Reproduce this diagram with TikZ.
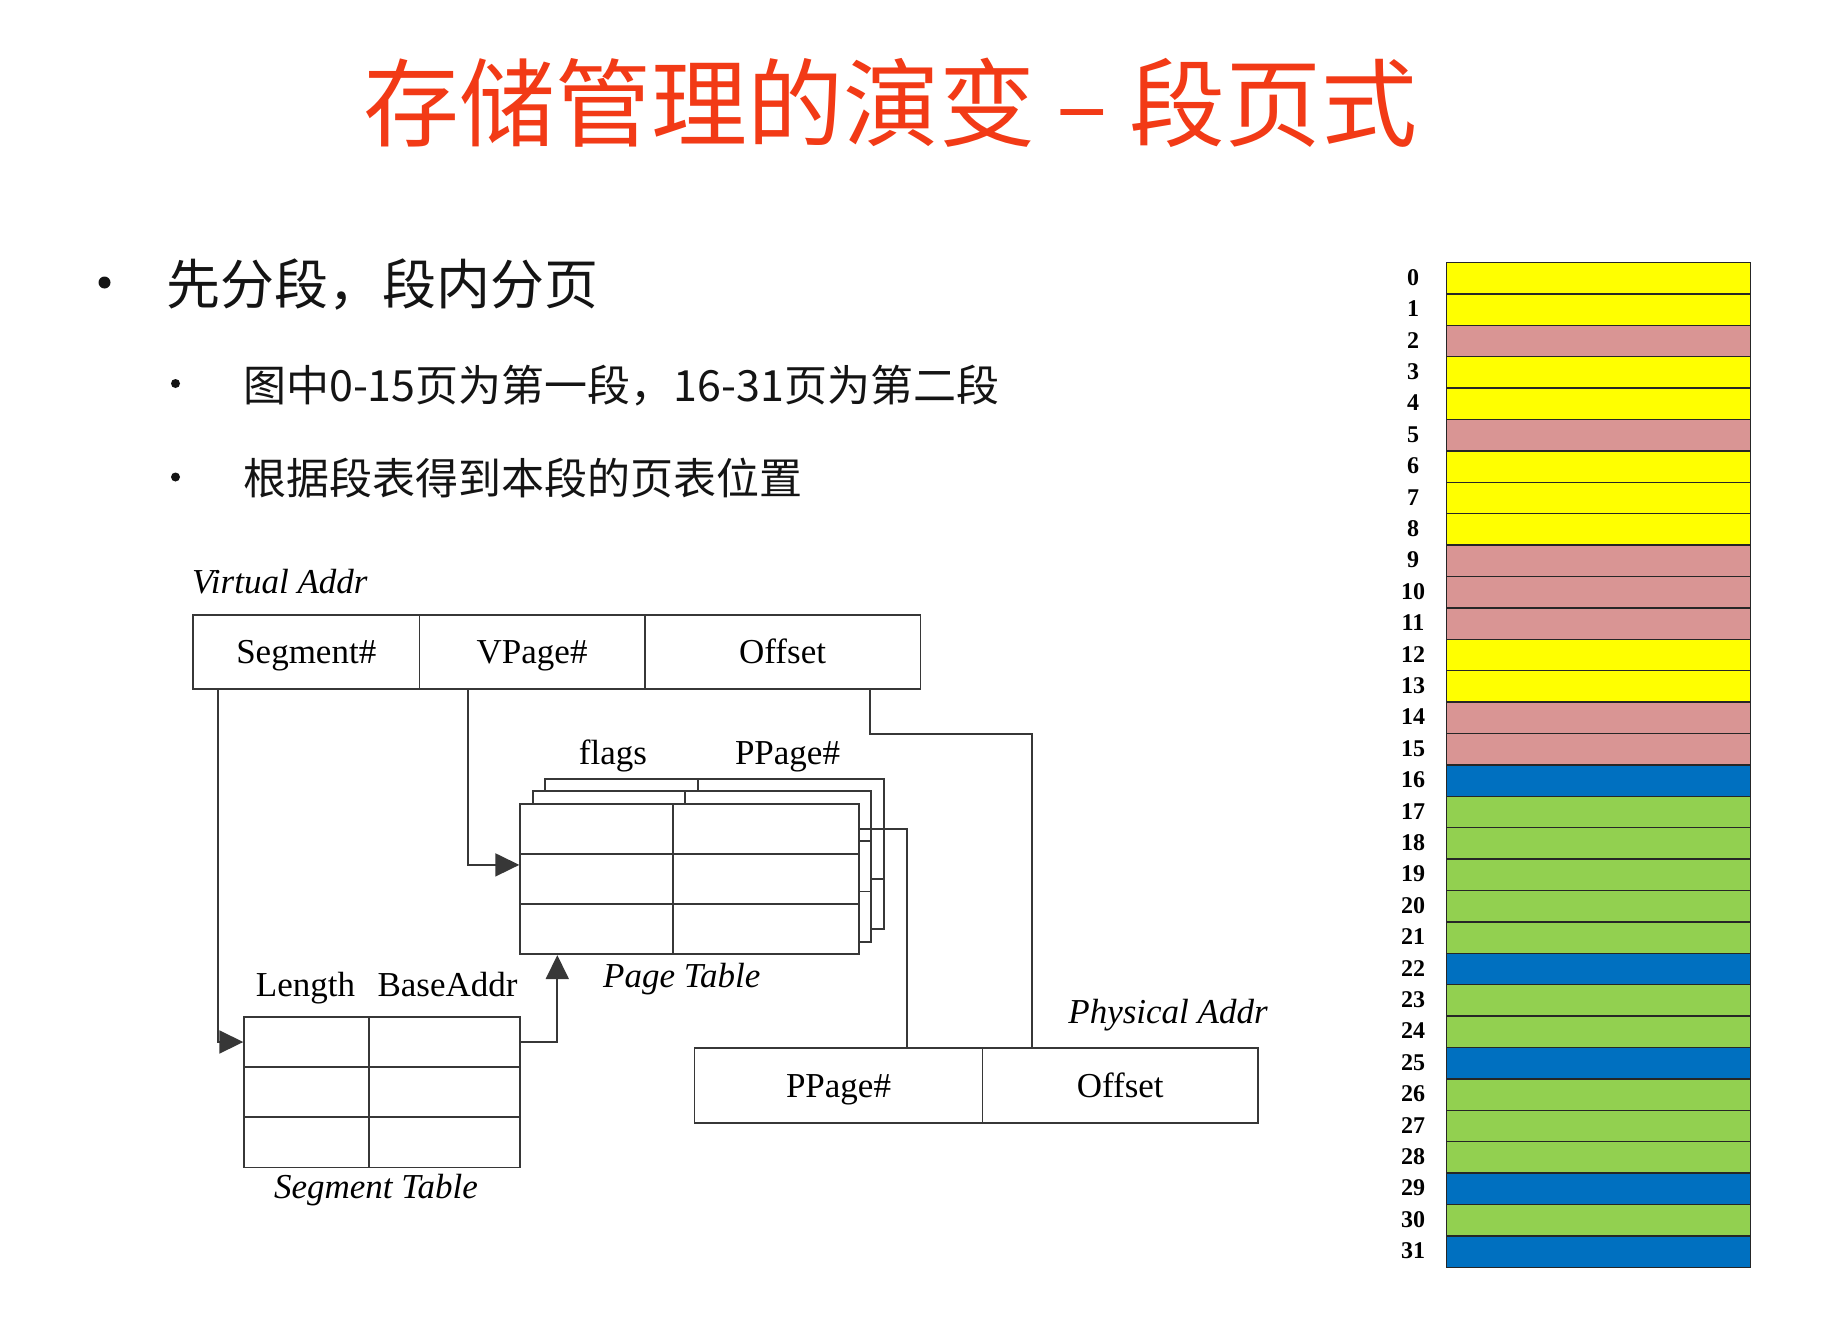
\documentclass[tikz,border=0pt]{standalone}
\usepackage{fontspec}
\setmainfont{Liberation Serif}
\newfontfamily\cjk{Noto Sans CJK SC}
\usetikzlibrary{arrows.meta,calc}

\definecolor{titlered}{RGB}{242,58,22}
\definecolor{memyellow}{RGB}{255,255,0}
\definecolor{mempink}{RGB}{217,149,148}
\definecolor{memblue}{RGB}{0,112,192}
\definecolor{memgreen}{RGB}{146,208,80}
\definecolor{inkline}{RGB}{55,55,55}
\definecolor{bodytext}{RGB}{20,20,20}

% one 3x2 table built from cell nodes: name, left, top, first column width, second column width
\newcommand{\tablegrid}[5]{%
  \foreach \r in {1,2,3}{%
    \node[cell, minimum width=#4pt, anchor=north west] (#1-\r-1) at (#2, #3+50.2*\r-50.2) {};
    \node[cell, minimum width=#5pt, anchor=north west] (#1-\r-2) at (#2+#4, #3+50.2*\r-50.2) {};
  }%
}

\begin{document}
\begin{tikzpicture}[x=1pt, y=-1pt,
  field/.style={draw=inkline, line width=1.8pt, inner sep=0pt, minimum height=74.6pt,
    text height=23pt, text depth=0pt, font=\fontsize{35}{40}\selectfont},
  cell/.style={draw=inkline, line width=1.8pt, fill=white, inner sep=0pt, minimum height=50.2pt},
  lbl/.style={inner sep=0pt, font=\fontsize{35}{40}\selectfont},
  ital/.style={inner sep=0pt, font=\itshape\fontsize{35}{40}\selectfont},
  wire/.style={draw=inkline, line width=1.8pt},
  conn/.style={wire, -{Triangle[length=24pt,width=23pt]}},
  memrow/.style={draw=black!85, line width=1.4pt, inner sep=0pt, minimum width=304.3pt,
    minimum height=31.4pt, anchor=north west},
  memlbl/.style={inner sep=0pt, font=\bfseries\fontsize{24}{27}\selectfont},
  bigdot/.style={circle, fill=bodytext, inner sep=0pt, minimum size=12pt},
  smalldot/.style={circle, fill=bodytext, inner sep=0pt, minimum size=9pt},
  bullet/.style={anchor=west, inner sep=0pt, text=bodytext}
]
\useasboundingbox (0,0) rectangle (1822,1327);
\fill[white] (0,0) rectangle (1822,1327);

% heading
\node[font=\cjk\fontsize{96}{110}\selectfont, text=titlered, inner sep=0pt]
  (title) at (890.5,102.5) {存储管理的演变 – 段页式};

% bullet list
\node[bigdot] (d1) at (104.5,282.5) {};
\node[bullet, font=\cjk\fontsize{54}{60}\selectfont] (b1) at (166,284.5) {先分段，段内分页};
\node[smalldot] (d2) at (175.5,383.5) {};
\node[bullet, font=\cjk\fontsize{43}{50}\selectfont] (b2) at (243,385.5) {图中0-15页为第一段，16-31页为第二段};
\node[smalldot] (d3) at (175.5,477) {};
\node[bullet, font=\cjk\fontsize{43}{50}\selectfont] (b3) at (243,478) {根据段表得到本段的页表位置};

% virtual address
\node[ital, anchor=base west] (vaname) at (192,593) {Virtual Addr};
\node[field, minimum width=226.5pt] (seg) at (306.25,652) {Segment\#};
\node[field, minimum width=225.2pt] (vpg) at (532.1,652) {VPage\#};
\node[field, minimum width=275.8pt] (off) at (782.6,652) {Offset};

% stacked page tables, back to front
\tablegrid{ptc}{544.3}{777.7}{152.4}{186}
\tablegrid{ptb}{531.8}{790.2}{152.4}{186}
\tablegrid{pt}{519.3}{802.7}{152.4}{186}
\node[lbl, anchor=base] (flags) at (613,764) {flags};
\node[lbl, anchor=base] (ppg) at (787.5,764) {PPage\#};
\node[ital, anchor=base] (ptname) at (681.7,987) {Page Table};

% segment table
\tablegrid{st}{243.3}{1016}{124.4}{151.6}
\node[lbl, anchor=base] (len) at (305.5,996) {Length};
\node[lbl, anchor=base] (base) at (447.5,996) {BaseAddr};
\node[ital, anchor=base] (stname) at (376,1198) {Segment Table};

% physical address
\node[ital, anchor=base] (paname) at (1168,1023) {Physical Addr};
\node[field, minimum width=288pt] (ppn) at (838.5,1085.5) {PPage\#};
\node[field, minimum width=275.5pt] (poff) at (1120.25,1085.5) {Offset};

% connectors
\draw[conn] ($(seg.south west)+(25.7,0)$) |- (st-1-1.west);
\draw[conn] ($(vpg.south west)+(49.5,0)$) |- ($(pt-2-1.north west)+(0,12)$);
\draw[conn] (st-1-2.east) -| ($(pt-3-1.south west)+(38,0)$);
\draw[wire] (pt-1-2.east) -| ($(ppn.north west)+(213.2,0)$);
\draw[wire] ($(off.south west)+(226,0)$) -- ++(0,43.4) -| ($(poff.north west)+(50,0)$);

% physical memory frames
\foreach \i/\c in {0/memyellow,1/memyellow,2/mempink,3/memyellow,4/memyellow,5/mempink,
  6/memyellow,7/memyellow,8/memyellow,9/mempink,10/mempink,11/mempink,12/memyellow,
  13/memyellow,14/mempink,15/mempink,16/memblue,17/memgreen,18/memgreen,19/memgreen,
  20/memgreen,21/memgreen,22/memblue,23/memgreen,24/memgreen,25/memblue,26/memgreen,
  27/memgreen,28/memgreen,29/memblue,30/memgreen,31/memblue}{
  \node[memrow, fill=\c] (m\i) at (1445.7,261.7+31.4*\i) {};
  \node[memlbl] (l\i) at (1413,277.4+31.4*\i) {\i};
}
\end{tikzpicture}
\end{document}
